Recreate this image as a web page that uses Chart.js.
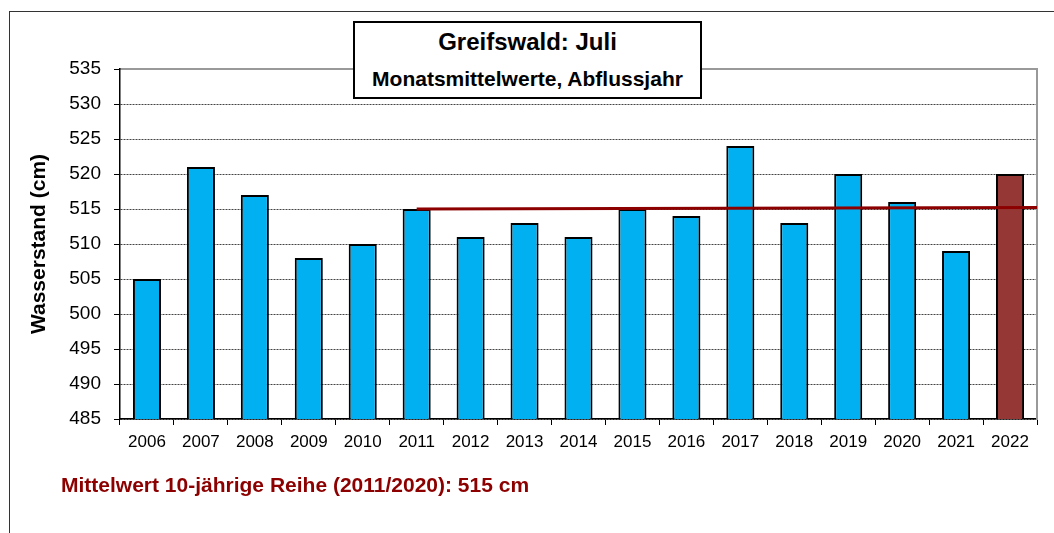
<!DOCTYPE html>
<html>
<head>
<meta charset="utf-8">
<script src="https://cdn.jsdelivr.net/npm/chart.js@4"></script>
<style>
  html, body { margin: 0; padding: 0; background: #fff; overflow: hidden; }
  body { width: 1054px; height: 533px; position: relative; font-family: "Liberation Sans", Arial, sans-serif; }
  #frame { position: absolute; left: 9px; top: 11px; width: 1200px; height: 700px; border-left: 1.5px solid #333; border-top: 1.5px solid #333; }
  #chart { position: absolute; left: 0; top: 0; }
  #title-box { position: absolute; left: 353px; top: 21px; width: 349px; height: 78px; box-sizing: border-box; border: 2px solid #000; background: #fff; z-index: 2; }
  #title-box .t1 { position: absolute; left: 0; right: 0; top: 5px; text-align: center; font-weight: bold; font-size: 24px; }
  #title-box .t2 { position: absolute; left: 0; right: 0; top: 44px; text-align: center; font-weight: bold; font-size: 21px; }
  #note { position: absolute; left: 61px; top: 473px; font-weight: bold; font-size: 21px; color: #8c0000; white-space: nowrap; }
</style>
</head>
<body>
<div id="frame"></div>
<canvas id="chart" width="1054" height="533"></canvas>
<div id="title-box">
  <div class="t1">Greifswald: Juli</div>
  <div class="t2">Monatsmittelwerte, Abflussjahr</div>
</div>
<div id="note">Mittelwert 10-jährige Reihe (2011/2020): 515 cm</div>
<script>
const years = ['2006', '2007', '2008', '2009', '2010', '2011', '2012', '2013', '2014',
  '2015', '2016', '2017', '2018', '2019', '2020', '2021', '2022'];
const levels = [505, 521, 517, 508, 510, 515, 511, 513, 511, 515, 514, 524, 513, 520, 516, 509, 520];
const currentYear = '2022';
const meanFromYear = '2011';
const meanLevels = [515.0, 515.2]; // start (2011) and right edge

const yMin = 485, yMax = 535, yStep = 5;

const CYAN = '#00b0f0';
const BROWN = '#953735';
const DARKRED = '#8c0000';
const FONT = '"Liberation Sans", Arial, sans-serif';

const barColors = years.map(y => y === currentYear ? BROWN : CYAN);
const meanPoints = [
  { x: years.indexOf(meanFromYear), y: meanLevels[0] },
  { x: years.length - 0.5, y: meanLevels[1] },
];

new Chart(document.getElementById('chart'), {
  data: {
    labels: years,
    datasets: [
      {
        type: 'line',
        data: meanPoints,
        xAxisID: 'x2',
        yAxisID: 'y',
        borderColor: DARKRED,
        borderWidth: 3,
        pointRadius: 0,
        fill: false,
        order: 0,
      },
      {
        type: 'bar',
        data: levels,
        xAxisID: 'x',
        yAxisID: 'y',
        grouped: false,
        backgroundColor: barColors,
        borderColor: '#000',
        borderWidth: 2,
        borderSkipped: false,
        categoryPercentage: 1,
        barPercentage: 0.52,
        order: 1,
      },
    ]
  },
  options: {
    responsive: false,
    animation: false,
    layout: { padding: { left: 10, top: 69, right: 17, bottom: 84 } },
    plugins: { legend: { display: false }, tooltip: { enabled: false } },
    scales: {
      x: {
        type: 'category',
        position: 'bottom',
        offset: true,
        grid: { offset: true, drawOnChartArea: false, tickLength: 6, tickColor: '#000', tickWidth: 1 },
        border: { color: '#000', width: 1.5 },
        ticks: { color: '#000', padding: 7, maxRotation: 0, font: { family: FONT, size: 17 } },
        afterFit: s => { s.height = 30; },
      },
      x2: {
        type: 'linear',
        position: 'top',
        min: -0.5,
        max: years.length - 0.5,
        grid: { display: false, drawTicks: false },
        border: { color: '#999', width: 2 },
        ticks: { display: false },
        afterFit: s => { s.height = 0; },
      },
      y: {
        min: yMin,
        max: yMax,
        ticks: { stepSize: yStep, color: '#000', padding: 13, font: { family: FONT, size: 19 } },
        grid: {
          color: c => c.tick && c.tick.value === yMax ? 'rgba(0,0,0,0)' : '#444',
          lineWidth: 1,
          tickLength: 6,
          tickColor: '#000',
          tickWidth: 1,
        },
        border: { color: '#000', width: 1.5, dash: [2, 1] },
        title: {
          display: true,
          text: 'Wasserstand (cm)',
          color: '#000',
          padding: { top: 17, bottom: 0 },
          font: { family: FONT, size: 21, weight: 'bold' },
        },
        afterFit: s => { s.width = 110; },
      },
      yR: {
        position: 'right',
        grid: { display: false, drawTicks: false },
        border: { color: '#999', width: 2 },
        ticks: { display: false },
        afterFit: s => { s.width = 0; },
      },
    }
  }
});
</script>
</body>
</html>
